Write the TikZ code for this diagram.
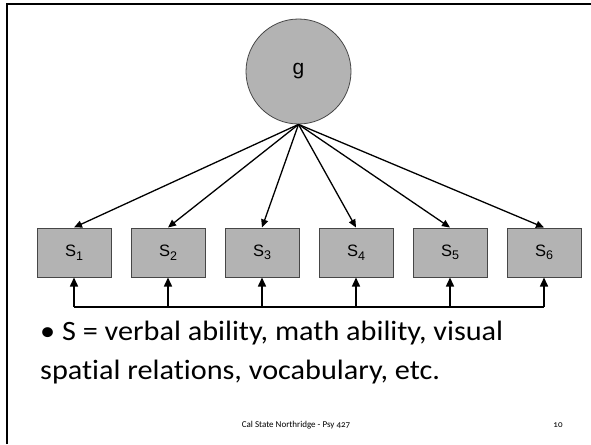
\documentclass[tikz,border=0pt]{standalone}
\usepackage{fontspec}
\setmainfont{Carlito}[Numbers=OldStyle, Ligatures=NoCommon]
\newfontfamily\arialfont{Liberation Sans}
\usetikzlibrary{arrows.meta}
\definecolor{boxgray}{RGB}{179,179,179}
\definecolor{edgegray}{RGB}{70,70,70}
\newcommand{\widetext}[1]{\scalebox{1.08}[1]{#1}}
\tikzset{
  latent/.style={circle, fill=boxgray, draw=edgegray, line width=0.8pt,
    minimum size=105pt, inner sep=0pt, font=\arialfont\fontsize{21}{21}\selectfont},
  observed/.style={rectangle, fill=boxgray, draw=edgegray, line width=1pt,
    minimum width=74pt, minimum height=49pt, inner sep=0pt,
    font=\arialfont\fontsize{16.5}{16.5}\selectfont},
  loading/.style={line width=1.3pt, -{Triangle[length=8pt,width=7pt]}},
  corr/.style={line width=1.5pt, -{Triangle[length=9pt,width=8pt]}},
  bus/.style={line width=2pt},
  frameline/.style={line width=2pt, black},
  bodytext/.style={anchor=base west, inner sep=0pt, font=\fontsize{28}{28}\selectfont},
  foottext/.style={anchor=base, inner sep=0pt, font=\fontsize{9}{9}\selectfont}
}
\newcommand{\sublabel}[1]{S\raisebox{-3.5pt}{\fontsize{12.5}{12.5}\selectfont#1}}
\begin{document}
\begin{tikzpicture}[x=1pt,y=-1pt]
  \useasboundingbox (0,0) rectangle (591,444);
  % slide frame (left and top edges)
  \draw[frameline] (7,444) -- (7,4.5) -- (591,4.5);

  % general factor
  \node[latent] (g) at (298.5,71.5) {g};

  % specific abilities
  \foreach \i in {1,...,6} {
    \pgfmathsetmacro{\cx}{74+94*(\i-1)}
    \node[observed] (s\i) at (\cx,252.5) {\sublabel{\i}};
    \coordinate (b\i) at (\cx,307);
  }

  % loadings from g
  \foreach \i in {1,...,6} {
    \draw[loading] (g.south) -- (s\i.north);
  }

  % correlated residual bus
  \draw[bus] (b1) -- (b6);
  \foreach \i in {1,...,6} {
    \draw[corr] (b\i) -- (s\i.south);
  }

  % bullet text
  \node[bodytext] (line1) at (40,340) {\widetext{• S = verbal ability, math ability, visual}};
  \node[bodytext] (line2) at (40,379) {\widetext{spatial relations, vocabulary, etc.}};

  % footer
  \node[foottext] (foot) at (296,427) {Cal State Northridge - Psy 427};
  \node[foottext] (page) at (558,427) {10};
\end{tikzpicture}
\end{document}
